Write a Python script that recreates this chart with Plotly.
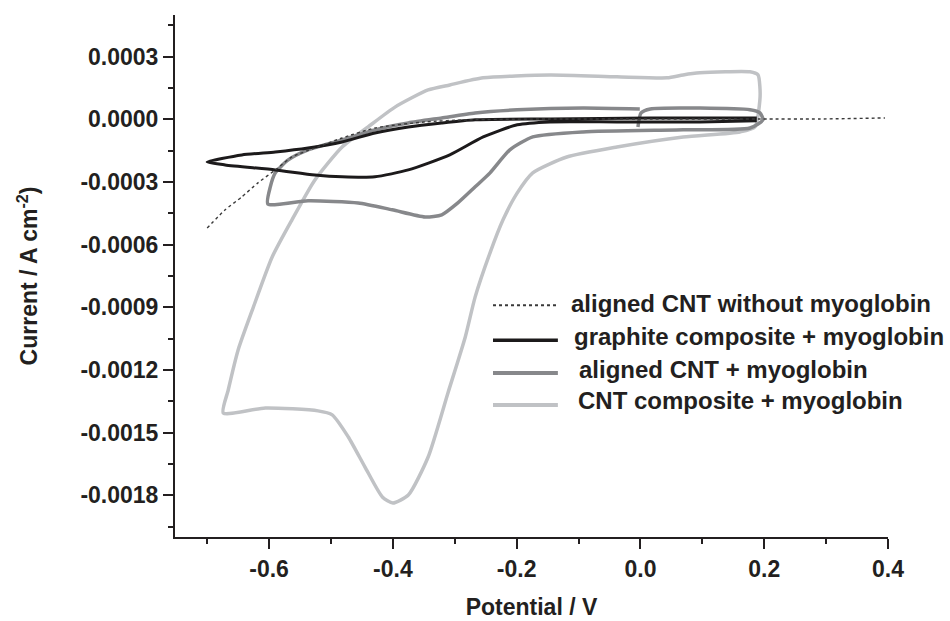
import plotly.graph_objects as go

# ---------------- data ----------------
series_names = [
    "aligned CNT without myoglobin",
    "graphite composite + myoglobin",
    "aligned CNT + myoglobin",
    "CNT composite + myoglobin",
]

# aligned CNT without myoglobin (dotted)
v_cnt_bare = [-0.700, -0.671, -0.644, -0.618, -0.590, -0.563, -0.526, -0.482, -0.429,
              -0.348, -0.279, -0.146, 0.016, 0.193, 0.290, 0.395]
i_cnt_bare = [-5.20e-4, -4.33e-4, -3.71e-4, -3.04e-4, -2.42e-4, -1.80e-4, -1.37e-4, -8.9e-5,
              -4.1e-5, -1.2e-5, -2e-6, 2e-6, 2e-6, 2e-6, 2e-6, 7e-6]

# graphite composite + myoglobin (black)
v_graphite = [0.188, 0.096, -0.038, -0.146, -0.199, -0.254, -0.308, -0.375, -0.429, -0.482,
              -0.526, -0.590, -0.671, -0.700, -0.644, -0.590, -0.537, -0.482, -0.429,
              -0.375, -0.321, -0.267, -0.146, 0.016, 0.188]
i_graphite = [-7e-6, -1.2e-5, -1.2e-5, -1.2e-5, -2.6e-5, -8.4e-5, -1.70e-4, -2.42e-4, -2.75e-4,
              -2.75e-4, -2.66e-4, -2.42e-4, -2.18e-4, -2.04e-4, -1.70e-4, -1.56e-4, -1.37e-4,
              -1.08e-4, -6.5e-5, -3.6e-5, -1.7e-5, -2e-6, 2e-6, 7e-6, 7e-6]

# aligned CNT + myoglobin (medium grey)
v_cnt_aligned = [-0.004, 0.001, 0.016, 0.177, 0.193, 0.198, 0.177, 0.069, -0.093, -0.174,
                 -0.211, -0.243, -0.267, -0.295, -0.321, -0.348, -0.401, -0.456, -0.537,
                 -0.602, -0.598, -0.590, -0.569, -0.537, -0.482, -0.429, -0.375, -0.321,
                 -0.267, -0.199, -0.093, -0.001]
i_cnt_aligned = [-3.6e-5, 3.1e-5, 5.0e-5, 4.6e-5, 3.1e-5, -2e-6, -4.1e-5, -5.0e-5, -6.0e-5,
                 -8.4e-5, -1.46e-4, -2.56e-4, -3.23e-4, -4.00e-4, -4.57e-4, -4.67e-4,
                 -4.33e-4, -4.00e-4, -3.90e-4, -4.05e-4, -3.23e-4, -2.56e-4, -1.94e-4,
                 -1.46e-4, -9.8e-5, -5.0e-5, -1.7e-5, 7e-6, 3.1e-5, 4.6e-5, 5.5e-5, 5.0e-5]

# CNT composite + myoglobin (light grey)
v_cnt_composite = [0.185, 0.193, 0.193, 0.190, 0.177, 0.096, 0.069, 0.043, -0.038, -0.146,
                   -0.254, -0.308, -0.343, -0.396, -0.440, -0.482, -0.526, -0.563, -0.595,
                   -0.627, -0.650, -0.666, -0.674, -0.606, -0.521, -0.498, -0.472, -0.445,
                   -0.417, -0.400, -0.375, -0.343, -0.311, -0.283, -0.267, -0.243, -0.222,
                   -0.199, -0.174, -0.119, -0.038, 0.069, 0.161, 0.185]
i_cnt_composite = [-3.6e-5, 9.3e-5, 1.56e-4, 2.13e-4, 2.28e-4, 2.23e-4, 2.13e-4, 1.99e-4,
                   2.04e-4, 2.13e-4, 1.99e-4, 1.65e-4, 1.41e-4, 6.0e-5, -3.6e-5, -1.32e-4,
                   -2.90e-4, -4.81e-4, -6.59e-4, -9.12e-4, -1.104e-3, -1.296e-3, -1.406e-3,
                   -1.382e-3, -1.396e-3, -1.415e-3, -1.521e-3, -1.665e-3, -1.808e-3,
                   -1.837e-3, -1.799e-3, -1.617e-3, -1.310e-3, -1.042e-3, -8.50e-4,
                   -6.39e-4, -4.81e-4, -3.52e-4, -2.56e-4, -1.80e-4, -1.32e-4, -8.4e-5,
                   -6.0e-5, -3.6e-5]

x_tickvals = [-0.6, -0.4, -0.2, 0.0, 0.2, 0.4]
x_ticktext = ["-0.6", "-0.4", "-0.2", "0.0", "0.2", "0.4"]
y_tickvals = [0.0003, 0.0, -0.0003, -0.0006, -0.0009, -0.0012, -0.0015, -0.0018]
y_ticktext = ["0.0003", "0.0000", "-0.0003", "-0.0006", "-0.0009", "-0.0012", "-0.0015", "-0.0018"]

# ---------------- styling ----------------
INK = "#231f20"
FONT = "Liberation Sans, Arial, sans-serif"
styles = [
    dict(color="#3a3a3a", width=1.4, dash="dot"),
    dict(color="#1c1a1b", width=3.0, dash="solid"),
    dict(color="#87888b", width=3.5, dash="solid"),
    dict(color="#c0c2c5", width=3.5, dash="solid"),
]
xs = [v_cnt_bare, v_graphite, v_cnt_aligned, v_cnt_composite]
ys = [i_cnt_bare, i_graphite, i_cnt_aligned, i_cnt_composite]
draw_order = [3, 2, 1, 0]

fig = go.Figure()
for k in draw_order:
    fig.add_trace(go.Scatter(
        x=xs[k], y=ys[k], mode="lines", name=series_names[k],
        line=dict(color=styles[k]["color"], width=styles[k]["width"],
                  dash=styles[k]["dash"], shape="spline", smoothing=0.6),
        showlegend=False, hoverinfo="skip"))

# manual legend (samples + labels) placed in paper coordinates
leg_sample_y = [0.444, 0.377, 0.314, 0.253]
leg_text_y = [0.448, 0.385, 0.320, 0.261]
leg_text_x = [0.552, 0.557, 0.564, 0.562]
for k in range(4):
    fig.add_shape(type="line", xref="paper", yref="paper",
                  x0=0.446, x1=0.537, y0=leg_sample_y[k], y1=leg_sample_y[k],
                  line=dict(color=styles[k]["color"], width=styles[k]["width"] + 0.5,
                            dash=styles[k]["dash"]))
    fig.add_annotation(xref="paper", yref="paper", x=leg_text_x[k], y=leg_text_y[k],
                       xanchor="left", yanchor="middle", showarrow=False,
                       text=series_names[k],
                       font=dict(family=FONT, size=24, color=INK, weight="bold"))

axis_common = dict(
    showline=True, linecolor=INK, linewidth=2, mirror=False,
    ticks="outside", ticklen=10, tickwidth=2, tickcolor=INK,
    showgrid=False, zeroline=False,
    tickfont=dict(family=FONT, size=23, color=INK, weight="bold"),
)

fig.update_xaxes(
    range=[-0.752, 0.4], tickmode="array", tickvals=x_tickvals, ticktext=x_ticktext,
    minor=dict(ticks="outside", ticklen=5, tickwidth=2, tickcolor=INK, dtick=0.1, tick0=0,
               showgrid=False),
    title=dict(text="Potential / V", standoff=18,
               font=dict(family=FONT, size=23, color=INK, weight="bold")),
    **axis_common)
fig.update_yaxes(
    range=[-0.0020, 0.0005], tickmode="array", tickvals=y_tickvals, ticktext=y_ticktext,
    minor=dict(ticks="outside", ticklen=5, tickwidth=2, tickcolor=INK, dtick=0.00015, tick0=0,
               showgrid=False),
    title=dict(text="Current / A cm<sup>-2</sup>)", standoff=36,
               font=dict(family=FONT, size=23, color=INK, weight="bold")),
    **axis_common)

fig.update_layout(
    width=950, height=621,
    margin=dict(l=175, r=62, t=15, b=84, autoexpand=False),
    paper_bgcolor="white", plot_bgcolor="white",
    showlegend=False,
)

fig.write_html("out.html")
